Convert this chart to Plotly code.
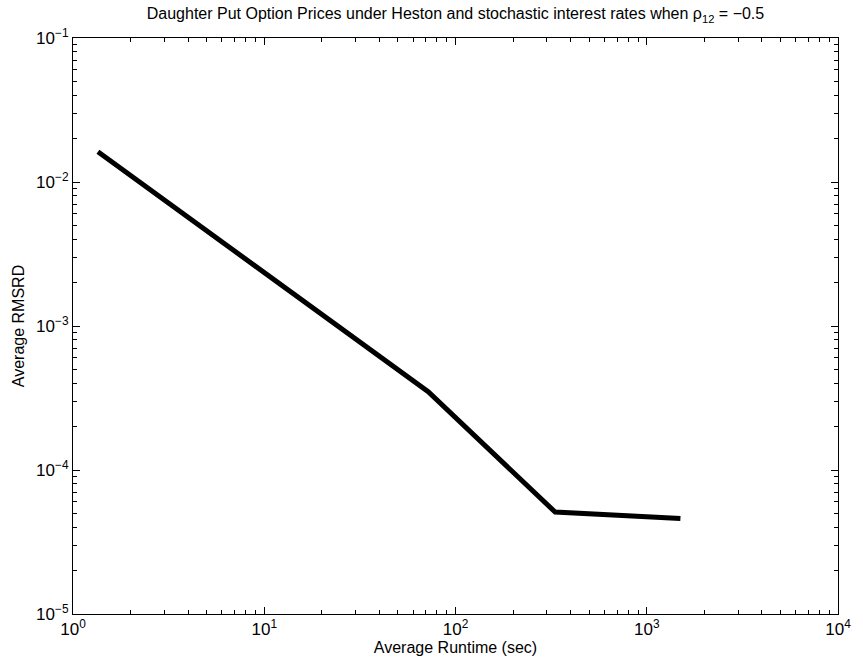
import plotly.graph_objects as go

runtime = [1.35, 72, 332, 1500]
rmsrd = [0.0162, 3.5e-4, 5.1e-5, 4.6e-5]

x_tickvals = [1, 10, 100, 1000, 10000]
x_ticktext = ["10<sup>0</sup>", "10<sup>1</sup>", "10<sup>2</sup>", "10<sup>3</sup>", "10<sup>4</sup>"]
y_tickvals = [1e-5, 1e-4, 1e-3, 1e-2, 1e-1]
y_ticktext = ["10<sup>−5</sup>", "10<sup>−4</sup>", "10<sup>−3</sup>", "10<sup>−2</sup>", "10<sup>−1</sup>"]

x_minor = [m * 10 ** e for e in range(0, 4) for m in range(2, 10)]
y_minor = [m * 10.0 ** e for e in range(-5, -1) for m in range(2, 10)]

fig = go.Figure()
fig.add_trace(go.Scatter(x=runtime, y=rmsrd, mode="lines",
                         line=dict(color="black", width=5), showlegend=False))

font = "Liberation Sans, Arial, Helvetica, sans-serif"


def axis_common(minor_vals):
    return dict(
        type="log", showgrid=False, zeroline=False, showline=True, linecolor="black",
        linewidth=1, mirror="ticks", ticks="inside", ticklen=7, tickcolor="black",
        tickfont=dict(family=font, size=17, color="black"),
        minor=dict(tickmode="array", tickvals=minor_vals, ticks="inside", ticklen=4,
                   tickcolor="black", showgrid=False),
    )


fig.update_layout(
    width=863, height=664,
    margin=dict(l=73, r=14, t=38, b=44),
    paper_bgcolor="white", plot_bgcolor="white",
    font=dict(family=font, size=16, color="black"),
    title=dict(text="Daughter Put Option Prices under Heston and stochastic interest rates when ρ<sub>12</sub> = −0.5",
               x=0.5, xref="paper", xanchor="center", y=0.988, yref="container", yanchor="top",
               font=dict(family=font, size=16, color="black")),
    xaxis=dict(range=[0, 4], tickvals=x_tickvals, ticktext=x_ticktext,
               title=dict(text="Average Runtime (sec)", standoff=1, font=dict(family=font, size=16)),
               **axis_common(x_minor)),
    yaxis=dict(range=[-5, -1], tickvals=y_tickvals, ticktext=y_ticktext,
               title=dict(text="Average RMSRD", standoff=7, font=dict(family=font, size=16)),
               **axis_common(y_minor)),
)

fig.write_html("out.html")
